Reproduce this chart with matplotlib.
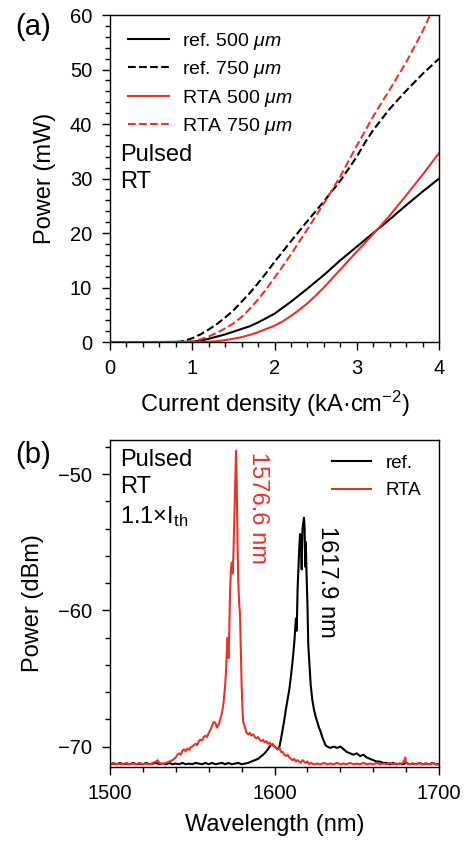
import matplotlib
matplotlib.use("Agg")
import matplotlib.pyplot as plt
from matplotlib.ticker import MultipleLocator

plt.rcParams['font.family'] = ['Liberation Sans', 'DejaVu Sans']
plt.rcParams['mathtext.fontset'] = 'custom'
plt.rcParams['mathtext.rm'] = 'Liberation Sans'
plt.rcParams['mathtext.it'] = 'Liberation Sans:italic'
plt.rcParams['mathtext.bf'] = 'Liberation Sans:bold'

RED = '#e8322a'

# ---------------- Panel (a) data: L-J curves ----------------
j_ref500 = [0, 0.5, 1.0, 1.1, 1.2, 1.3, 1.4, 1.5, 1.6, 1.7, 1.8, 1.9, 2.0, 2.1, 2.2, 2.3, 2.4, 2.6, 2.8, 3.0, 3.2, 3.4, 3.6, 3.8, 4.0]
p_ref500 = [0, 0, 0.05, 0.25, 0.6, 1.0, 1.4, 1.9, 2.4, 2.9, 3.6, 4.4, 5.2, 6.3, 7.4, 8.6, 9.8, 12.3, 15.0, 17.5, 20.0, 22.5, 25.1, 27.6, 30.0]

j_ref750 = [0, 0.5, 0.8, 0.85, 0.9, 1.0, 1.1, 1.2, 1.3, 1.4, 1.5, 1.6, 1.7, 1.8, 1.9, 2.0, 2.2, 2.4, 2.6, 2.8, 3.0, 3.1, 3.2, 3.4, 3.6, 3.8, 4.0]
p_ref750 = [0, 0, 0, 0.05, 0.2, 0.7, 1.4, 2.3, 3.3, 4.5, 5.8, 7.4, 9.0, 10.8, 12.7, 14.7, 18.5, 22.2, 25.8, 29.6, 34.0, 36.6, 38.9, 42.8, 46.1, 49.2, 52.0]

j_rta500 = [0, 0.5, 1.0, 1.2, 1.3, 1.4, 1.5, 1.6, 1.7, 1.8, 1.9, 2.0, 2.1, 2.2, 2.3, 2.4, 2.5, 2.6, 2.8, 3.0, 3.2, 3.4, 3.6, 3.8, 4.0]
p_rta500 = [0, 0, 0, 0.05, 0.15, 0.35, 0.6, 0.9, 1.3, 1.8, 2.4, 3.0, 3.8, 4.8, 5.9, 7.1, 8.5, 10.0, 13.3, 16.6, 19.8, 23.2, 26.9, 30.7, 34.7]

j_rta750 = [0, 0.5, 0.9, 1.0, 1.1, 1.2, 1.3, 1.4, 1.5, 1.6, 1.7, 1.8, 1.9, 2.0, 2.1, 2.2, 2.4, 2.6, 2.8, 3.0, 3.2, 3.4, 3.6, 3.8, 4.0]
p_rta750 = [0, 0, 0, 0.1, 0.5, 1.0, 1.7, 2.5, 3.4, 4.6, 6.1, 7.8, 9.7, 11.8, 13.9, 16.1, 20.7, 25.4, 30.4, 36.0, 41.4, 46.3, 51.3, 57.0, 63.5]

labels_a = ['ref. 500 $\\mu m$', 'ref. 750 $\\mu m$', 'RTA 500 $\\mu m$', 'RTA 750 $\\mu m$']

# ---------------- Panel (b) data: spectra ----------------
wl_ref = [1500, 1502, 1504, 1506, 1508, 1510, 1512, 1514, 1516, 1518, 1520, 1522, 1524, 1526, 1528,
          1530, 1532, 1534, 1536, 1538, 1540, 1542, 1544, 1546, 1548, 1550, 1552, 1554, 1556, 1558,
          1560, 1562, 1564, 1566, 1568, 1570, 1572, 1574, 1576, 1578, 1580, 1582, 1584, 1586, 1588,
          1590, 1592, 1594, 1596, 1597, 1598, 1599, 1600, 1601, 1602, 1603, 1604, 1605, 1606, 1607,
          1608, 1609, 1610, 1611, 1612, 1612.5, 1613, 1613.5, 1614, 1614.5, 1615, 1615.5, 1616, 1616.5,
          1617, 1617.9, 1618.3, 1618.7, 1619, 1619.5, 1620, 1620.5, 1621, 1621.5, 1622, 1623, 1624,
          1625, 1626, 1627, 1628, 1629, 1630, 1631, 1632, 1634, 1636, 1638, 1640, 1642, 1644, 1646,
          1648, 1650, 1652, 1654, 1656, 1658, 1660, 1662, 1664, 1666, 1668, 1670, 1672, 1674, 1676,
          1678, 1680, 1682, 1684, 1686, 1688, 1690, 1692, 1694, 1696, 1698, 1700]
pw_ref = [-71.3, -71.25, -71.3, -71.2, -71.3, -71.25, -71.3, -71.2, -71.3, -71.25, -71.3, -71.2, -71.3, -71.25, -71.2,
          -71.3, -71.25, -71.3, -71.2, -71.3, -71.25, -71.3, -71.2, -71.3, -71.25, -71.3, -71.2, -71.25, -71.3, -71.2,
          -71.3, -71.2, -71.3, -71.25, -71.2, -71.3, -71.2, -71.3, -71.25, -71.2, -71.3, -71.25, -71.2, -71.1, -71.0,
          -70.9, -70.7, -70.5, -70.2, -70.0, -69.85, -69.9, -70.0, -70.1, -70.2, -70.0, -69.4, -68.7, -68.0, -67.2,
          -66.5, -65.8, -64.8, -63.7, -62.4, -61.5, -60.6, -61.5, -58.5, -57.0, -55.5, -54.4, -54.5, -57.0,
          -54.0, -53.2, -54.0, -56.8, -55.0, -57.5, -59.5, -62.5, -63.5, -64.5, -65.5, -66.6, -67.3,
          -67.8, -68.2, -68.6, -68.9, -69.3, -69.6, -69.9, -70.0, -70.1, -70.0, -70.1, -70.0, -70.2, -70.4, -70.5,
          -70.6, -70.5, -70.7, -70.6, -70.8, -70.9, -71.0, -71.1, -71.1, -71.2, -71.2, -71.3, -71.2, -71.3, -71.25,
          -71.3, -71.2, -71.3, -71.25, -71.3, -71.2, -71.3, -71.25, -71.3, -71.2, -71.3, -71.3]

wl_rta = [1500, 1502, 1504, 1506, 1508, 1510, 1512, 1514, 1516, 1518, 1520, 1522, 1524, 1526, 1528, 1529,
          1530, 1532, 1534, 1536, 1538, 1540, 1541, 1542, 1543, 1544, 1545, 1546, 1547, 1548, 1549, 1550,
          1551, 1552, 1553, 1554, 1555, 1556, 1557, 1558, 1559, 1560, 1561, 1562, 1563, 1564, 1565, 1566,
          1567, 1568, 1569, 1570, 1570.5, 1571, 1571.5, 1572, 1572.5, 1573, 1573.5, 1574, 1574.5, 1575,
          1575.5, 1576, 1576.6, 1577, 1577.5, 1578, 1578.5, 1579, 1579.5, 1580, 1580.5, 1581, 1582, 1583,
          1584, 1585, 1586, 1587, 1588, 1589, 1590, 1591, 1592, 1593, 1594, 1595, 1596, 1597, 1598, 1599,
          1600, 1601, 1602, 1603, 1604, 1605, 1606, 1607, 1608, 1609, 1610, 1611, 1612, 1613, 1614, 1615,
          1616, 1617, 1618, 1619, 1620, 1621, 1622, 1624, 1626, 1628, 1630, 1632, 1634, 1636, 1638, 1640,
          1642, 1644, 1646, 1648, 1650, 1652, 1654, 1656, 1658, 1660, 1662, 1664, 1666, 1668, 1670, 1672,
          1674, 1676, 1678, 1679, 1679.5, 1680, 1682, 1684, 1686, 1688, 1690, 1692, 1694, 1696, 1698, 1700]
pw_rta = [-71.3, -71.2, -71.3, -71.25, -71.3, -71.2, -71.3, -71.25, -71.3, -71.2, -71.3, -71.25, -71.3, -71.2, -71.1, -71.0,
          -71.2, -71.3, -71.2, -71.1, -71.0, -70.8, -70.6, -70.5, -70.6, -70.3, -70.2, -70.35, -70.15, -70.25, -70.05, -70.0,
          -69.9, -69.8, -69.9, -69.6, -69.5, -69.55, -69.3, -69.2, -69.3, -69.0, -68.8, -68.5, -68.2, -68.25, -68.6, -68.4,
          -68.0, -67.6, -66.8, -65.5, -64.5, -63.0, -62.0, -63.5, -61.5, -58.5, -57.0, -56.5, -57.3, -56.0,
          -53.5, -51.0, -48.3, -50.5, -55.0, -58.0, -59.5, -60.2, -63.0, -65.5, -67.2, -68.2, -68.6, -69.0,
          -69.1, -69.0, -69.2, -69.1, -69.3, -69.4, -69.3, -69.5, -69.6, -69.5, -69.7, -69.6, -69.8, -69.7, -69.9, -69.8,
          -70.0, -70.1, -70.2, -70.1, -70.4, -70.4, -70.6, -70.7, -70.6, -70.8, -70.9, -71.0, -70.9, -71.1, -71.0, -71.1,
          -71.2, -71.0, -71.1, -71.2, -71.1, -71.3, -71.2, -71.3, -71.25, -71.3, -71.2, -71.3, -71.25, -71.3, -71.2, -71.3,
          -71.25, -71.3, -71.2, -71.3, -71.25, -71.3, -71.2, -71.3, -71.25, -71.3, -71.2, -71.3, -71.25, -71.3, -71.2, -71.3,
          -71.25, -71.3, -71.2, -71.0, -70.8, -71.2, -71.3, -71.25, -71.3, -71.2, -71.3, -71.25, -71.3, -71.2, -71.3, -71.3]

labels_b = ['ref.', 'RTA']
peak_labels = ['1617.9 nm', '1576.6 nm']

# ---------------- Figure ----------------
fig = plt.figure(figsize=(4.73, 8.41), dpi=100)
axa = fig.add_axes([0.2326, 0.5933, 0.6956, 0.3888])
axb = fig.add_axes([0.2326, 0.0880, 0.6956, 0.3888])

TICK = 14.5
LAB = 17
ANN = 17

for ax in (axa, axb):
    for s in ax.spines.values():
        s.set_linewidth(1.0)
    ax.tick_params(which='both', direction='out', top=False, right=False, labelsize=TICK, width=1.0)
    ax.tick_params(which='major', length=5.8)
    ax.tick_params(which='minor', length=3.5)
    ax.tick_params(axis='x', which='both', pad=6.5)
    ax.tick_params(axis='y', which='both', pad=7)

# Panel a
axa.plot(j_ref500, p_ref500, color='black', lw=1.5, label=labels_a[0])
axa.plot(j_ref750, p_ref750, color='black', lw=1.5, ls='--', label=labels_a[1])
axa.plot(j_rta500, p_rta500, color=RED, lw=1.5, label=labels_a[2])
axa.plot(j_rta750, p_rta750, color=RED, lw=1.5, ls='--', label=labels_a[3])
axa.set_xlim(0, 4)
axa.set_ylim(0, 60)
axa.xaxis.set_major_locator(MultipleLocator(1))
axa.xaxis.set_minor_locator(MultipleLocator(0.2))
axa.yaxis.set_major_locator(MultipleLocator(10))
axa.yaxis.set_minor_locator(MultipleLocator(2))
axa.set_xlabel('Current density (kA·cm$^{-2}$)', fontsize=LAB, labelpad=8)
axa.set_ylabel('Power (mW)', fontsize=LAB, labelpad=10)
axa.legend(loc='upper left', bbox_to_anchor=(0.055, 0.952), frameon=False, borderaxespad=0,
           borderpad=0, fontsize=14, handlelength=2.1, handletextpad=0.65, labelspacing=0.38)
axa.text(0.03, 0.606, 'Pulsed\nRT', transform=axa.transAxes, fontsize=ANN, ha='left', va='top',
         linespacing=1.3)

# Panel b
axb.plot(wl_ref, pw_ref, color='black', lw=1.5, label=labels_b[0])
axb.plot(wl_rta, pw_rta, color=RED, lw=1.5, label=labels_b[1])
axb.set_xlim(1500, 1700)
axb.set_ylim(-71.5, -47.5)
axb.xaxis.set_major_locator(MultipleLocator(100))
axb.xaxis.set_minor_locator(MultipleLocator(20))
axb.yaxis.set_major_locator(MultipleLocator(10))
axb.yaxis.set_minor_locator(MultipleLocator(2))
axb.set_xlabel('Wavelength (nm)', fontsize=LAB, labelpad=8)
axb.set_ylabel('Power (dBm)', fontsize=LAB, labelpad=10)
axb.legend(loc='upper right', bbox_to_anchor=(0.947, 0.955), frameon=False, borderaxespad=0,
           borderpad=0, fontsize=13.5, handlelength=2.1, handletextpad=0.8, labelspacing=0.55)
axb.text(0.03, 0.972, 'Pulsed\nRT\n1.1×I$_{\\mathrm{th}}$', transform=axb.transAxes, fontsize=ANN,
         ha='left', va='top', linespacing=1.3)
axb.text(1631.9, -53.8, peak_labels[0], rotation=-90, color='black', fontsize=ANN, ha='center', va='top')
axb.text(1590.0, -48.4, peak_labels[1], rotation=-90, color=RED, fontsize=ANN, ha='center', va='top')

fig.text(0.032, 0.985, '(a)', fontsize=21, ha='left', va='top')
fig.text(0.032, 0.476, '(b)', fontsize=21, ha='left', va='top')

fig.savefig('out.png', dpi=100)
